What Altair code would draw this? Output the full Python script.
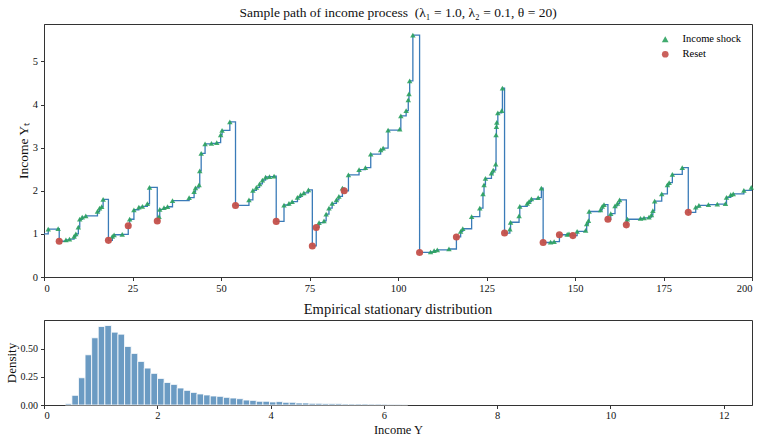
import altair as alt
import pandas as pd

# ---------------- data: sample path (jump times, post-jump values, type) -------------
start_y = 1.0
t_end = 200
event_t = [1.2, 4.0, 4.3, 6.2, 7.2, 8.5, 9.0, 9.7, 10.1, 10.8, 11.8, 15.1, 15.7, 16.3, 16.7,
           18.2, 19.3, 19.8, 22.1, 23.8, 24.2, 25.4, 26.8, 27.8, 29.2, 29.8,
           32.0, 32.5, 32.7, 33.9, 34.9, 36.3, 41.0, 42.4, 42.8, 43.8, 44.0, 44.4, 45.5,
           47.3, 48.8, 49.9, 50.3, 52.5,
           54.1, 57.9, 59.0, 60.0, 60.9, 61.7, 62.6, 63.7, 65.0,
           65.6, 67.8, 69.2, 70.1, 71.6, 72.5, 73.4, 74.7,
           75.8, 76.9, 77.7, 79.1, 79.7, 80.5, 81.4, 82.6, 83.3, 84.3,
           84.8, 86.0, 89.0, 90.8, 92.3, 95.1, 95.8, 97.2, 100.5, 100.8, 102.3, 102.9, 103.1,
           103.3, 104.2,
           106.1, 109.2, 110.2, 111.1, 114.4,
           116.5, 117.7, 118.3, 120.8, 123.1, 124.0, 124.3, 124.7, 126.4, 126.9, 127.6, 127.7,
           127.8, 127.9, 128.2, 129.3, 129.5,
           130.1, 131.6, 131.8, 134.2, 134.4, 136.5, 137.0, 137.7, 139.6, 140.5,
           141.0, 143.1, 144.1,
           145.6, 147.8, 148.3,
           149.4, 150.6, 153.0, 153.3, 153.8, 154.0, 157.2, 157.7, 158.2,
           159.3, 160.1, 161.3, 162.0, 162.6,
           164.5, 164.8, 168.5, 169.5, 170.9, 171.6, 172.0, 172.5, 174.5, 176.1, 176.6, 177.5,
           180.3,
           182.0, 184.1, 185.0, 187.7, 190.2, 192.5, 192.8, 194.0, 194.7, 197.7, 199.8]
event_y = [1.11, 1.12, 0.83, 0.86, 0.88, 0.94, 1.00, 1.16, 1.34, 1.39, 1.42, 1.52, 1.60, 1.63, 1.80,
           0.85, 0.94, 0.98, 0.99, 1.19, 1.34, 1.56, 1.62, 1.64, 1.70, 2.08,
           1.30, 1.40, 1.57, 1.61, 1.63, 1.77, 1.84, 1.98, 2.07, 2.14, 2.46, 2.87, 3.09,
           3.10, 3.12, 3.30, 3.40, 3.60,
           1.66, 1.79, 2.01, 2.08, 2.16, 2.25, 2.32, 2.33, 2.34,
           1.29, 1.67, 1.71, 1.75, 1.85, 1.91, 1.95, 2.02,
           0.72, 1.15, 1.26, 1.30, 1.46, 1.60, 1.71, 1.79, 1.87, 2.06,
           2.00, 2.37, 2.49, 2.54, 2.85, 2.95, 2.99, 3.41, 3.43, 3.74, 3.86, 4.11, 4.25,
           4.55, 5.61,
           0.57, 0.58, 0.61, 0.63, 0.65,
           0.93, 1.06, 1.12, 1.40, 1.60, 1.93, 2.14, 2.29, 2.41, 2.48, 2.62, 3.30,
           3.49, 3.59, 3.81, 3.86, 4.38,
           1.02, 1.11, 1.27, 1.42, 1.64, 1.71, 1.75, 1.81, 1.84, 2.06,
           0.80, 0.81, 0.82,
           0.98, 0.99, 1.00,
           0.96, 1.06, 1.08, 1.23, 1.31, 1.52, 1.56, 1.64, 1.68,
           1.34, 1.47, 1.65, 1.71, 1.79,
           1.21, 1.34, 1.36, 1.37, 1.39, 1.44, 1.54, 1.76, 1.93, 2.14, 2.19, 2.38,
           2.54,
           1.50, 1.62, 1.66, 1.68, 1.69, 1.70, 1.85, 1.91, 1.93, 2.01, 2.08]
event_kind = (["S", "S", "R"] + ["S"] * 12 +
              ["R", "S", "S", "S", "R"] + ["S"] * 6 +
              ["R"] + ["S"] * 17 +
              ["R"] + ["S"] * 8 +
              ["R"] + ["S"] * 7 +
              ["R", "R"] + ["S"] * 8 +
              ["R"] + ["S"] * 14 +
              ["R"] + ["S"] * 4 +
              ["R"] + ["S"] * 16 +
              ["R"] + ["S"] * 9 +
              ["R", "S", "S"] +
              ["R", "S", "S"] +
              ["R"] + ["S"] * 8 +
              ["R"] + ["S"] * 4 +
              ["R"] + ["S"] * 12 +
              ["R"] + ["S"] * 10)

# ---------------- data: histogram --------------------------------------------------
hist_start = 0.376
bin_width = 0.1163
density = [0.012, 0.086, 0.242, 0.446, 0.597, 0.697, 0.706, 0.647, 0.629, 0.520,
           0.458, 0.387, 0.328, 0.281, 0.236, 0.200, 0.183, 0.151, 0.130, 0.112,
           0.098, 0.089, 0.080, 0.077, 0.068, 0.062, 0.056, 0.044, 0.041, 0.033,
           0.033, 0.027, 0.030, 0.024, 0.024, 0.018, 0.018, 0.015, 0.015, 0.012,
           0.012, 0.012, 0.009, 0.009, 0.009, 0.009, 0.008, 0.008, 0.007, 0.006,
           0.006, 0.005]

LABEL_SHOCK = "Income shock"
LABEL_RESET = "Reset"

path_df = pd.DataFrame({"t": [0] + event_t + [t_end],
                        "y": [start_y] + event_y + [event_y[-1]]})
ev_df = pd.DataFrame({"t": event_t, "y": event_y,
                      "kind": [LABEL_SHOCK if k == "S" else LABEL_RESET for k in event_kind]})
hist_df = pd.DataFrame({"lo": [hist_start + i * bin_width for i in range(len(density))],
                        "hi": [hist_start + (i + 1) * bin_width for i in range(len(density))],
                        "d": density})

FONT = "Liberation Serif"
GREEN = "#2ca25f"
RED = "#c4504a"

xs_top = alt.Scale(domain=[0, 200], nice=False, zero=False)
ys_top = alt.Scale(domain=[0, 5.87], nice=False)
color_scale = alt.Scale(domain=[LABEL_SHOCK, LABEL_RESET], range=[GREEN, RED])
shape_scale = alt.Scale(domain=[LABEL_SHOCK, LABEL_RESET], range=["triangle-up", "circle"])

line = alt.Chart(path_df).mark_line(interpolate="step-after", color="#3a7bb8",
                                    strokeWidth=1.3).encode(
    x=alt.X("t:Q", scale=xs_top,
            axis=alt.Axis(values=[0, 25, 50, 75, 100, 125, 150, 175, 200], title=None)),
    y=alt.Y("y:Q", scale=ys_top,
            axis=alt.Axis(values=[0, 1, 2, 3, 4, 5], title="Income Yₜ", titlePadding=2)),
)

legend = alt.Legend(title=None, orient="top-right", offset=10, labelFont=FONT,
                    labelFontSize=10.5, symbolSize=45, labelOffset=12, rowPadding=4,
                    symbolStrokeWidth=0)

shocks = alt.Chart(ev_df).transform_filter(alt.datum.kind == LABEL_SHOCK).mark_point(
    filled=True, size=30, opacity=0.9).encode(
    x=alt.X("t:Q", scale=xs_top), y=alt.Y("y:Q", scale=ys_top),
    color=alt.Color("kind:N", scale=color_scale, legend=legend),
    shape=alt.Shape("kind:N", scale=shape_scale, legend=legend),
)
resets = alt.Chart(ev_df).transform_filter(alt.datum.kind == LABEL_RESET).mark_point(
    filled=True, size=50, opacity=0.95).encode(
    x=alt.X("t:Q", scale=xs_top), y=alt.Y("y:Q", scale=ys_top),
    color=alt.Color("kind:N", scale=color_scale, legend=legend),
    shape=alt.Shape("kind:N", scale=shape_scale, legend=legend),
)

top = alt.layer(line, shocks, resets).properties(
    width=708, height=253,
    title=alt.TitleParams("Sample path of income process\u00a0\u00a0(λ₁ = 1.0, λ₂ = 0.1, θ = 20)",
                          fontSize=13.5, offset=5),
)

bars = alt.Chart(hist_df).mark_bar(color="#6b9bc3", stroke="white", strokeWidth=0.8).encode(
    x=alt.X("lo:Q", scale=alt.Scale(domain=[0, 12.5], nice=False),
            axis=alt.Axis(values=[0, 2, 4, 6, 8, 10, 12], title="Income Y", titlePadding=2,
                          titleFontSize=12.5, labelPadding=2)),
    x2="hi:Q",
    y=alt.Y("d:Q", scale=alt.Scale(domain=[0, 0.755], nice=False),
            axis=alt.Axis(values=[0, 0.25, 0.5], format=".2f", title="Density",
                          titlePadding=2, titleFontSize=13, labelFontSize=10)),
    y2=alt.datum(0),
).properties(width=708, height=85,
             title=alt.TitleParams("Empirical stationary distribution", fontSize=14.5, offset=3))

chart = alt.vconcat(top, bars, spacing=6).resolve_legend(
    color="independent", shape="independent"
).configure(
    font=FONT,
    padding={"left": 4, "top": 5, "right": 5, "bottom": 0},
).configure_view(
    stroke="#333", strokeWidth=1,
).configure_axis(
    labelFont=FONT, titleFont=FONT, labelFontSize=10.5, titleFontSize=13.5,
    titleFontWeight="normal", domainColor="#333", tickColor="#333", tickSize=3.5,
    labelColor="#111", titleColor="#111", grid=False, labelPadding=3,
).configure_title(
    font=FONT, fontWeight="normal", color="#111", anchor="middle",
)

chart.save("out.html", embed_options={"renderer": "svg", "actions": False})
